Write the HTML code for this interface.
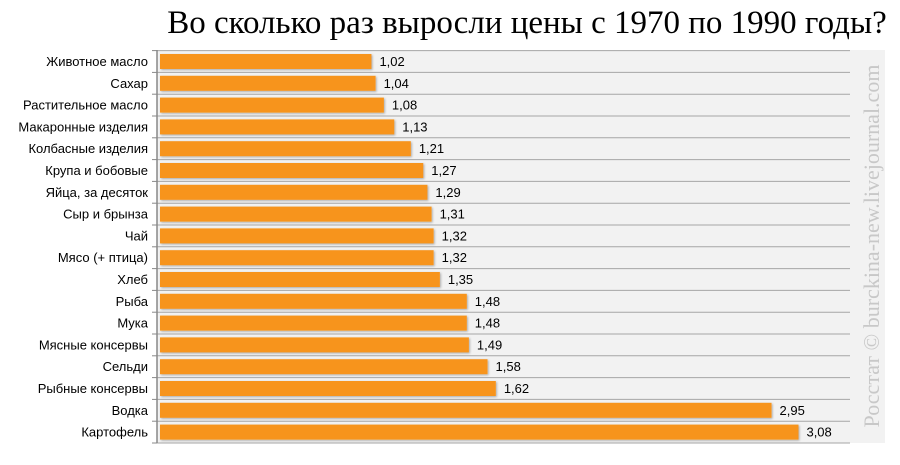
<!DOCTYPE html>
<html><head><meta charset="utf-8">
<style>
body{margin:0;background:#fff;width:900px;height:460px;overflow:hidden;font-family:"Liberation Sans",sans-serif}
</style></head><body>
<svg id="chart" width="900" height="460" xmlns="http://www.w3.org/2000/svg">
<defs><filter id="sh" x="-5%" y="-30%" width="110%" height="160%"><feDropShadow dx="1" dy="1" stdDeviation="1" flood-color="#000" flood-opacity="0.3"/></filter></defs>
<rect x="157" y="50" width="728" height="393" fill="#f2f2f2"/>
<text x="527" y="33" text-anchor="middle" font-family="Liberation Serif, serif" font-size="33" fill="#000">Во сколько раз выросли цены с 1970 по 1990 годы?</text>
<text transform="translate(879,246) rotate(-90)" text-anchor="middle" font-family="Liberation Serif, serif" font-size="22" fill="#c8c8c8">Росстат © burckina-new.livejournal.com</text>
<g id="g"></g>
</svg>
<script>
const categories=["Животное масло","Сахар","Растительное масло","Макаронные изделия","Колбасные изделия","Крупа и бобовые","Яйца, за десяток","Сыр и брынза","Чай","Мясо (+ птица)","Хлеб","Рыба","Мука","Мясные консервы","Сельди","Рыбные консервы","Водка","Картофель"];
const values=[1.02,1.04,1.08,1.13,1.21,1.27,1.29,1.31,1.32,1.32,1.35,1.48,1.48,1.49,1.58,1.62,2.95,3.08];
const valueLabels=["1,02","1,04","1,08","1,13","1,21","1,27","1,29","1,31","1,32","1,32","1,35","1,48","1,48","1,49","1,58","1,62","2,95","3,08"];
const NS="http://www.w3.org/2000/svg",g=document.getElementById('g');
const x0=160,k=207.3,topY=50.6,rh=(443-50.6)/categories.length;
const xs=v=>x0+v*k, ys=i=>topY+i*rh;
function mk(t,a){const e=document.createElementNS(NS,t);for(const n in a)e.setAttribute(n,a[n]);g.appendChild(e);return e;}
for(let i=0;i<=categories.length;i++){
 const l=mk('line',{x1:157,x2:850,y1:ys(i),y2:ys(i),stroke:'#a6a6a6','stroke-width':1});
 
 
 const t=mk('line',{x1:152,x2:157,y1:ys(i),y2:ys(i),stroke:'#888'});
 
 
}
const ax=mk('line',{x1:157,x2:157,y1:50,y2:443,stroke:'#888','stroke-width':1.5});


categories.forEach((c,i)=>{
 const cy=ys(i)+rh/2;
 const b=mk('rect',{x:x0,y:cy-7.5,width:xs(values[i])-x0,height:15,fill:'#f7941d',filter:'url(#sh)'});
 
 
 const t=mk('text',{x:148,y:cy+4.5,'text-anchor':'end','font-size':13,fill:'#000'});
 t.textContent=c;
 
 
 const v=mk('text',{x:xs(values[i])+8,y:cy+4.5,'font-size':13,fill:'#000'});
 v.textContent=valueLabels[i];
 
 
});
</script>
</body></html>
